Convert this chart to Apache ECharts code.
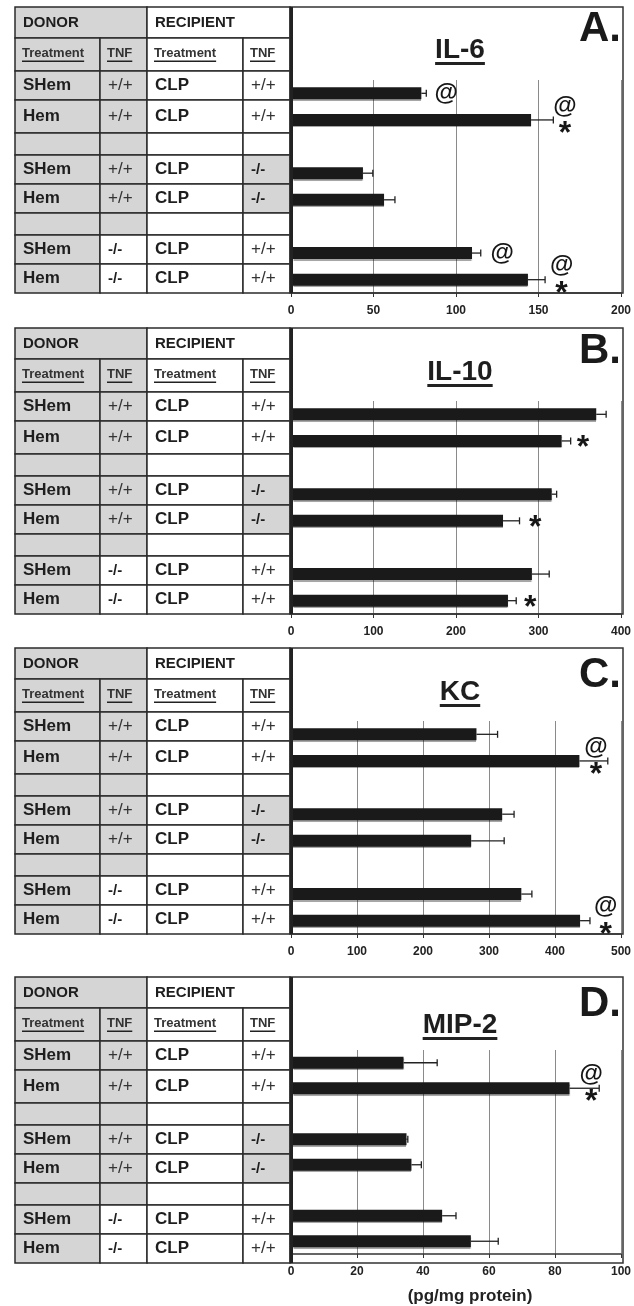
<!DOCTYPE html>
<html lang="en">
<head>
<meta charset="UTF-8">
<title>Cytokines after Hem / CLP</title>
<style>
  html, body { margin: 0; padding: 0; background: #fff; }
  #main { width: 634px; height: 1306px; }
</style>
</head>
<body>
<div id="main"></div>
<script src="https://cdn.jsdelivr.net/npm/echarts@6/dist/echarts.min.js"></script>
<script>
// rows of the left-hand table (donor -> recipient)
var donorTreatment = ['SHem', 'Hem', 'SHem', 'Hem', 'SHem', 'Hem'];
var donorTNF = ['+/+', '+/+', '+/+', '+/+', '-/-', '-/-'];
var recipTreatment = ['CLP', 'CLP', 'CLP', 'CLP', 'CLP', 'CLP'];
var recipTNF = ['+/+', '+/+', '-/-', '-/-', '+/+', '+/+'];

var panelTitles = ['IL-6', 'IL-10', 'KC', 'MIP-2'];
var panelLetters = ['A.', 'B.', 'C.', 'D.'];
var axisMax = [200, 400, 500, 100];
var axisStep = [50, 100, 100, 20];
var unitLabel = '(pg/mg protein)';

// means and SEM (pg/mg protein), same row order as the table
var il6Mean = [79, 145.5, 43.6, 56.4, 109.7, 143.6];
var il6Err = [3, 13.5, 6, 6.6, 5.3, 10.4];
var il10Mean = [370, 328, 316, 257, 292, 263];
var il10Err = [12, 11, 6, 20, 21, 10];
var kcMean = [281, 437, 320, 273, 349, 438];
var kcErr = [32, 43, 18, 50, 16, 15];
var mip2Mean = [34.1, 84.4, 35, 36.5, 45.8, 54.5];
var mip2Err = [10.2, 9, 0.4, 3, 4.2, 8.3];

// significance marks: which bar, which symbol(s), where on the value axis
var il6MarkBars = [0, 1, 4, 5];
var il6MarkText = ['@', '@*', '@', '@*'];
var il6MarkAt = [94, 166, 128, 164];
var il10MarkBars = [1, 3, 5];
var il10MarkText = ['*', '*', '*'];
var il10MarkAt = [354, 296, 290];
var kcMarkBars = [1, 5];
var kcMarkText = ['@*', '@*'];
var kcMarkAt = [462, 477];
var mip2MarkBars = [1];
var mip2MarkText = ['@*'];
var mip2MarkAt = [91];

var panels = [
    {mean: il6Mean, err: il6Err, mBars: il6MarkBars, mText: il6MarkText, mAt: il6MarkAt},
    {mean: il10Mean, err: il10Err, mBars: il10MarkBars, mText: il10MarkText, mAt: il10MarkAt},
    {mean: kcMean, err: kcErr, mBars: kcMarkBars, mText: kcMarkText, mAt: kcMarkAt},
    {mean: mip2Mean, err: mip2Err, mBars: mip2MarkBars, mText: mip2MarkText, mAt: mip2MarkAt}
];

// layout
var FONT = "'Liberation Sans', Arial, Helvetica, sans-serif";
var panelTop = [7, 328, 648, 977];
var titleDy = [43, 44, 44, 48];
var letterDy = [22, 23, 27, 27];
var cols = [15, 100, 147, 243, 290];
var rowH = [31, 33, 29, 33, 22, 29, 29, 22, 29, 29];
var tableH = 286;
var frameRight = 623;
var gray = '#d5d5d5';
var lineCol = '#2b2b2b';

// bar rows on the 8-slot category axis (slots 2 and 5 are spacers)
var slots = [0, 1, 3, 4, 6, 7];
var cats = [];
(function () {
    var k = 0;
    for (var r = 0; r < 8; r++) {
        if (slots.indexOf(r) >= 0) {
            cats.push(donorTreatment[k] + ' ' + donorTNF[k] + ' / ' + recipTreatment[k] + ' ' + recipTNF[k]);
            k++;
        } else {
            cats.push('gap' + r);
        }
    }
})();

var measureCtx = document.createElement('canvas').getContext('2d');
function textWidth(str, font) {
    measureCtx.font = font;
    return measureCtx.measureText(str).width;
}

function cell(x, y, w, h, fill) {
    return {type: 'rect', shape: {x: x, y: y, width: w, height: h},
        style: {fill: fill, stroke: lineCol, lineWidth: 1.5}, z: 5};
}
function txt(str, x, y, font, color, align) {
    return {type: 'text', x: x, y: y, z: 6,
        style: {text: str, font: font, fill: color || '#1e1e1e',
            align: align || 'left', verticalAlign: 'middle',
            textAlign: align || 'left', textVerticalAlign: 'middle'}};
}
function underline(x, y, w, h) {
    return {type: 'rect', shape: {x: x, y: y, width: w, height: h}, style: {fill: '#222'}, z: 6};
}

function panelGraphics(p) {
    var top = panelTop[p];
    var els = [];
    var y = top;
    var headFont = 'bold 15px ' + FONT;
    var subFont = 'bold 13px ' + FONT;
    var trtFont = 'bold 17px ' + FONT;
    var plusFont = '17px ' + FONT;
    var minusFont = 'bold 15px ' + FONT;

    // header row
    els.push(cell(cols[0], y, cols[2] - cols[0], rowH[0], gray));
    els.push(cell(cols[2], y, cols[4] - cols[2], rowH[0], '#fff'));
    els.push(txt('DONOR', cols[0] + 8, y + rowH[0] / 2, headFont));
    els.push(txt('RECIPIENT', cols[2] + 8, y + rowH[0] / 2, headFont));
    y += rowH[0];

    // sub header
    var subs = ['Treatment', 'TNF', 'Treatment', 'TNF'];
    for (var c = 0; c < 4; c++) {
        els.push(cell(cols[c], y, cols[c + 1] - cols[c], rowH[1], c < 2 ? gray : '#fff'));
        var cy = y + rowH[1] / 2 - 1;
        els.push(txt(subs[c], cols[c] + 7, cy, subFont, '#333'));
        els.push(underline(cols[c] + 7, cy + 7, textWidth(subs[c], subFont), 1.5));
    }
    y += rowH[1];

    // body rows
    var k = 0;
    for (var r = 0; r < 8; r++) {
        var h = rowH[r + 2];
        if (slots.indexOf(r) < 0) {
            els.push(cell(cols[0], y, cols[1] - cols[0], h, gray));
            els.push(cell(cols[1], y, cols[2] - cols[1], h, gray));
            els.push(cell(cols[2], y, cols[3] - cols[2], h, '#fff'));
            els.push(cell(cols[3], y, cols[4] - cols[3], h, '#fff'));
        } else {
            var vals = [donorTreatment[k], donorTNF[k], recipTreatment[k], recipTNF[k]];
            var fills = [gray, donorTNF[k] === '-/-' ? '#fff' : gray, '#fff', recipTNF[k] === '-/-' ? gray : '#fff'];
            for (var c2 = 0; c2 < 4; c2++) {
                els.push(cell(cols[c2], y, cols[c2 + 1] - cols[c2], h, fills[c2]));
                var f = (c2 === 0 || c2 === 2) ? trtFont : (vals[c2] === '+/+' ? plusFont : minusFont);
                els.push(txt(vals[c2], cols[c2] + 8, y + h / 2, f, (vals[c2] === '+/+') ? '#333' : '#1e1e1e'));
            }
            k++;
        }
        y += h;
    }

    // frame around the plot
    els.push({type: 'rect', shape: {x: cols[4], y: top, width: frameRight - cols[4], height: tableH},
        style: {fill: 'none', stroke: '#333', lineWidth: 1.5}, z: 7});
    els.push({type: 'line', shape: {x1: cols[4] + 1.5, y1: top, x2: cols[4] + 1.5, y2: top + tableH},
        style: {stroke: '#222', lineWidth: 3}, z: 7});

    // title + panel letter
    var titleFont = 'bold 28px ' + FONT;
    var tw = textWidth(panelTitles[p], titleFont);
    els.push(txt(panelTitles[p], 460, top + titleDy[p], titleFont, '#1e1e1e', 'center'));
    els.push(underline(460 - tw / 2, top + titleDy[p] + 12, tw, 3));
    els.push(txt(panelLetters[p], 621, top + letterDy[p], 'bold 42px ' + FONT, '#1a1a1a', 'right'));
    return els;
}

function errRender(params, api) {
    var mean = api.value(0), slot = api.value(1), err = api.value(2);
    var a = api.coord([mean, slot]);
    var b = api.coord([mean + err, slot]);
    var st = {stroke: '#222', lineWidth: 1.3};
    return {type: 'group', children: [
        {type: 'line', shape: {x1: a[0], y1: a[1], x2: b[0], y2: b[1]}, style: st},
        {type: 'line', shape: {x1: b[0], y1: b[1] - 3.5, x2: b[0], y2: b[1] + 3.5}, style: st}
    ]};
}

// kind 0 = '@' alone, 1 = '*' alone, 2 = '@' of a pair, 3 = '*' of a pair
var markGlyph = ['@', '*', '@', '*'];
var markSize = [24, 32, 24, 32];
var markDy = [0, 7, -14, 14];
function markRender(params, api) {
    var kind = api.value(2);
    var p = api.coord([api.value(0), api.value(1)]);
    return {type: 'text', x: p[0], y: p[1] + markDy[kind],
        style: {text: markGlyph[kind], font: 'bold ' + markSize[kind] + 'px ' + FONT, fill: '#161616',
            align: 'center', verticalAlign: 'middle', textAlign: 'center', textVerticalAlign: 'middle'}};
}

var grids = [], xAxes = [], yAxes = [], series = [], graphics = [];
panels.forEach(function (pd, i) {
    var top = panelTop[i];
    grids.push({left: 291, width: 332, top: top + 73, height: tableH - 73});
    xAxes.push({
        gridIndex: i, type: 'value', min: 0, max: axisMax[i], interval: axisStep[i],
        axisLine: {show: true, lineStyle: {color: '#333', width: 1.5}},
        axisTick: {show: true, length: 4, lineStyle: {color: '#333'}},
        axisLabel: {margin: 12, fontSize: 12, fontWeight: 'bold', color: '#222', fontFamily: FONT},
        splitLine: {show: true, lineStyle: {color: '#8a8a8a', width: 1}},
        name: i === 3 ? unitLabel : '',
        nameLocation: 'middle', nameGap: 34,
        nameTextStyle: {fontSize: 17, fontWeight: 'bold', color: '#222', fontFamily: FONT, padding: [0, 0, 0, 28]}
    });
    yAxes.push({
        gridIndex: i, type: 'category', inverse: true, data: cats,
        axisLine: {show: false}, axisTick: {show: false}, axisLabel: {show: false}, splitLine: {show: false}
    });
    series.push({
        type: 'bar', xAxisIndex: i, yAxisIndex: i, barWidth: 12,
        data: pd.mean.map(function (v, j) { return [v, slots[j]]; }),
        itemStyle: {color: '#1a1a1a', shadowColor: 'rgba(0,0,0,0.35)', shadowOffsetY: 1.5, shadowBlur: 1},
        z: 3
    });
    series.push({
        type: 'custom', xAxisIndex: i, yAxisIndex: i, renderItem: errRender,
        encode: {x: 0, y: 1},
        data: pd.mean.map(function (v, j) { return [v, slots[j], pd.err[j]]; }),
        z: 4
    });
    var marks = [];
    pd.mBars.forEach(function (b, j) {
        var t = pd.mText[j];
        if (t === '@') marks.push([pd.mAt[j], slots[b], 0]);
        else if (t === '*') marks.push([pd.mAt[j], slots[b], 1]);
        else {
            marks.push([pd.mAt[j], slots[b], 2]);
            marks.push([pd.mAt[j], slots[b], 3]);
        }
    });
    series.push({
        type: 'custom', xAxisIndex: i, yAxisIndex: i, renderItem: markRender,
        encode: {x: 0, y: 1}, data: marks, z: 8
    });
    graphics = graphics.concat(panelGraphics(i));
});

var option = {
    animation: false,
    backgroundColor: '#fff',
    grid: grids,
    xAxis: xAxes,
    yAxis: yAxes,
    series: series,
    graphic: {elements: graphics}
};

var myChart = echarts.init(document.getElementById('main'), null, {renderer: 'canvas'});
myChart.setOption(option);
</script>
</body>
</html>
